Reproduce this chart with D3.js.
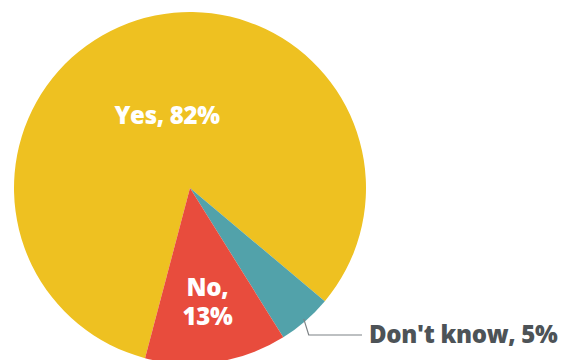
<!DOCTYPE html>
<html>
<head>
<meta charset="utf-8">
<script src="https://cdn.jsdelivr.net/npm/d3@7"></script>
<style>
  html, body { margin: 0; padding: 0; background: #fff; }
  svg { display: block; }
  text { font-family: "Open Sans", Lato, sans-serif; font-weight: 800; letter-spacing: -0.3px; }
</style>
</head>
<body>
<svg id="chart" width="565" height="360"></svg>
<script>
// Survey answers, in drawing order (clockwise)
const categories = ["Yes", "Don't know", "No"];
const values = [82, 5, 13];
const colors = ["#EEC121", "#52A2AA", "#E84C3D"];

const width = 565, height = 360;
const cx = 190, cy = 188, radius = 176;
const startDeg = 194.8;

const svg = d3.select("#chart");
const g = svg.append("g").attr("transform", `translate(${cx},${cy})`);

const pie = d3.pie()
  .sort(null)
  .value(d => d.value)
  .startAngle(startDeg * Math.PI / 180)
  .endAngle(startDeg * Math.PI / 180 + 2 * Math.PI);

const data = categories.map((c, i) => ({ name: c, value: values[i], color: colors[i] }));
const arcs = pie(data);

const arc = d3.arc().innerRadius(0).outerRadius(radius);

g.selectAll("path.slice")
  .data(arcs)
  .join("path")
  .attr("class", "slice")
  .attr("d", arc)
  .attr("fill", d => d.data.color)
  .attr("stroke", "none");

// Inside labels for the two large slices
const insideLabels = {
  "Yes": { r: 0.43, lines: d => [`${d.name}, ${d.value}%`] },
  "No": { r: 0.66, lines: d => [`${d.name},`, `${d.value}%`] }
};

arcs.forEach(a => {
  const spec = insideLabels[a.data.name];
  if (!spec) return;
  const la = d3.arc().innerRadius(radius * spec.r).outerRadius(radius * spec.r);
  const [x, y] = la.centroid(a);
  const lh = 29;
  const lines = spec.lines(a.data);
  const t = g.append("text")
    .attr("text-anchor", "middle")
    .attr("fill", "#fff")
    .attr("font-size", 24);
  lines.forEach((line, i) => {
    t.append("tspan")
      .attr("x", x)
      .attr("y", y + (i - (lines.length - 1) / 2) * lh + 8)
      .text(line);
  });
});

// Outside label with a leader line for the small slice
const dk = arcs.find(a => a.data.name === "Don't know");
const mid = (dk.startAngle + dk.endAngle) / 2;
const p0 = [Math.sin(mid) * radius * 0.985, -Math.cos(mid) * radius * 0.985];
const elbow = [p0[0] + 5, 147];
const p2 = [172, 147];

g.append("polyline")
  .attr("points", [p0, elbow, p2].map(p => p.join(",")).join(" "))
  .attr("fill", "none")
  .attr("stroke", "#7d8285")
  .attr("stroke-width", 1.2);

g.append("text")
  .attr("x", 179)
  .attr("y", 155)
  .attr("fill", "#4D5357")
  .attr("font-size", 24)
  .text(`${dk.data.name}, ${dk.data.value}%`);
</script>
</body>
</html>
